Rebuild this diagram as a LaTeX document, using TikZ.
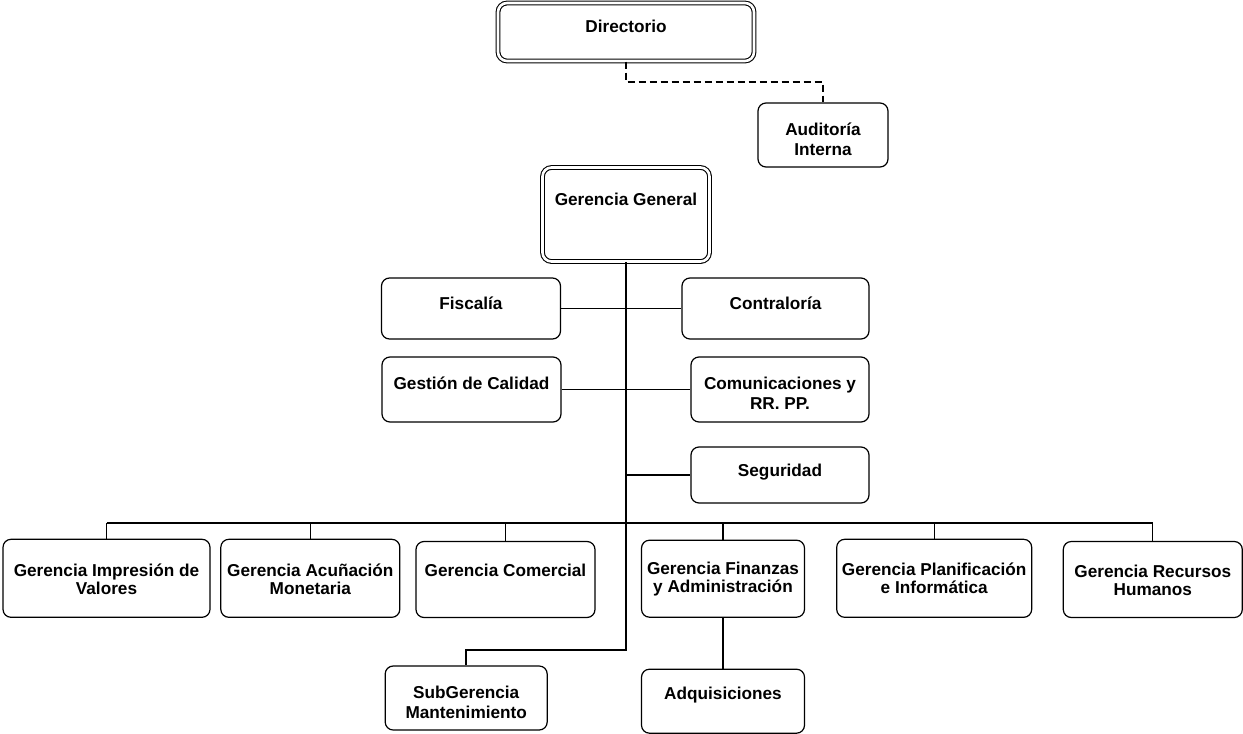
\documentclass[tikz,border=0pt]{standalone}
\usepackage{fontspec}
\setmainfont{Liberation Sans}
\usetikzlibrary{positioning, calc}

\begin{document}
\begin{tikzpicture}[x=1pt, y=-1pt]
	\tikzstyle{unit}=[draw=black, line width=1.2pt, rounded corners=8pt, fill=white, inner sep=0pt]
	\tikzstyle{unitdbl}=[unit, double, double distance=2.6pt, line width=1.1pt, rounded corners=9pt]
	\tikzstyle{lbl}=[anchor=base, align=center, inner sep=0pt, font=\bfseries\fontsize{17.2}{20}\selectfont]
	\tikzstyle{lblrow}=[lbl, font=\bfseries\fontsize{17.2}{18.3}\selectfont]
	\tikzstyle{link}=[line width=1.2pt]
	\tikzstyle{trunk}=[line width=1.8pt]
	\tikzstyle{dashlink}=[line width=1.2pt, dash pattern=on 7pt off 4pt]

	\useasboundingbox (0,0) rectangle (1243,734);

	%% direccion
	\node [unitdbl, minimum width=256pt, minimum height=58pt] (dir) at (626,32) {};
	\node [unit, minimum width=130pt, minimum height=64pt] (aud) at (823,135) {};
	\node [unitdbl, minimum width=167pt, minimum height=94pt] (gg) at (626,214.5) {};

	%% staff
	\foreach \n/\x/\y/\w/\h in {fis/471/308.5/179/61, con/775.5/308.5/187/61, cal/471.5/389.5/179/65,
		rrpp/780/389.5/178/65, seg/780/475/178/56}
		\node [unit, minimum width=\w pt, minimum height=\h pt] (\n) at (\x,\y) {};

	%% gerencias
	\foreach \n/\x/\y/\w/\h in {imp/106.5/578.3/207/78, acu/310.3/578.3/179/78, comer/505.5/579.5/179/76,
		fin/723/578.7/163/77, pla/934.2/578.3/195/78, rh/1152.8/579.5/179/76,
		sub/466.2/698/162/64, adq/723/701.2/163/64}
		\node [unit, minimum width=\w pt, minimum height=\h pt] (\n) at (\x,\y) {};

	%% textos (base = ultima linea)
	\node [lbl] (dir-t) at (dir.center) {Directorio};
	\node [lbl, yshift=-20pt] (aud-t) at (aud.center) {Auditoría\\Interna};
	\node [lbl, yshift=8.6pt] (gg-t) at (gg.center) {Gerencia General};
	\foreach \n/\t/\s in {fis/Fiscalía/-1, con/Contraloría/-1, cal/Gestión de Calidad/0,
		rrpp/Comunicaciones y\\RR. PP./-20, seg/Seguridad/-1}
		\node [lbl, yshift=\s pt] (\n-t) at (\n.center) {\t};
	\foreach \n/\t/\s in {imp/Gerencia Impresión de\\Valores/-16, acu/Gerencia Acuñación\\Monetaria/-16,
		comer/Gerencia Comercial/3.5, fin/Gerencia Finanzas\\y Administración/-14,
		pla/Gerencia Planificación\\e Informática/-15, rh/Gerencia Recursos\\Humanos/-16}
		\node [lblrow, yshift=\s pt] (\n-t) at (\n.center) {\t};
	\node [lbl, yshift=-20pt] (sub-t) at (sub.center) {SubGerencia\\Mantenimiento};
	\node [lbl, yshift=1.5pt] (adq-t) at (adq.center) {Adquisiciones};

	%% conectores
	\coordinate (dj) at (626,82);
	\coordinate (tj) at (626,650);
	\coordinate (bus) at (626,523);
	\draw [dashlink] (dir.south) -- (dj) -| (aud.north);
	\draw [trunk] (gg.south) -- (tj) -| (sub.north);
	\draw [link] (fis.east) -- (con.west);
	\draw [link] (cal.east) -- (rrpp.west);
	\draw [link] (gg.south |- seg.west) -- (seg.west);
	\draw [link] (imp.north |- bus) -- (rh.north |- bus);
	\foreach \n in {imp, acu, comer, fin, pla, rh}
		\draw [link] (\n.north |- bus) -- (\n.north);
	\draw [link] (fin.south) -- (adq.north);
\end{tikzpicture}
\end{document}
